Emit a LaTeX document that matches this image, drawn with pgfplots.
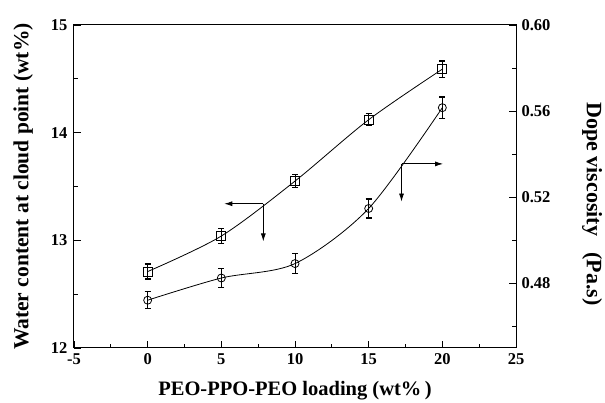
\documentclass[border=0pt]{standalone}
\usepackage{fontspec}
\setmainfont{Liberation Serif}
\usepackage{pgfplots}
\pgfplotsset{compat=1.18}
\usetikzlibrary{arrows.meta,calc}

\begin{document}
\begin{tikzpicture}
\pgfplotsset{
  every axis/.append style={
    scale only axis, width=442pt, height=323pt,
    xmin=-5, xmax=25,
    tick align=inside,
    tick style={black, line width=0.8pt},
    major tick length=7pt, minor tick length=4pt,
    axis line style={line width=1pt},
    ticklabel style={font=\fontsize{16.5}{18}\selectfont\bfseries},
    /pgf/number format/assume math mode=true,
  },
}
% left axis: water content
\begin{axis}[
  name=main,
  ymin=12, ymax=15,
  ytick={12,13,14,15}, minor ytick={12.5,13.5,14.5},
  xtick={-5,0,5,10,15,20,25}, minor xtick={-2.5,2.5,7.5,12.5,17.5,22.5},
  xtick pos=bottom, ytick pos=left,
  yticklabel style={anchor=east, xshift=-3pt},
  xticklabel style={anchor=north, yshift=-2pt},
  xlabel={PEO-PPO-PEO loading (wt\%\,)},
  ylabel={Water content at cloud point (wt\%)},
  xlabel style={font=\fontsize{20.5}{22}\selectfont\bfseries,
    at={(axis description cs:0.5,-0.133)}, anchor=center},
  ylabel style={font=\fontsize{21.5}{24}\selectfont\bfseries,
    at={(axis description cs:-0.115,0.5)}, anchor=center},
]
\addplot[black, line width=0.8pt, smooth, mark=square, mark size=4.5pt,
  mark options={fill=white, solid, line width=0.8pt},
  error bars/.cd, y dir=both, y explicit,
  error bar style={line width=0.8pt},
  error mark options={rotate=90, mark size=3pt, line width=1.2pt}]
  coordinates {
  (0,12.71) +- (0,0.07)
  (5,13.04) +- (0,0.07)
  (10,13.55) +- (0,0.06)
  (15,14.12) +- (0,0.055)
  (20,14.59) +- (0,0.075)
};
\draw[line width=0.8pt, -{Latex[length=8pt,width=5pt]}] (axis cs:7.85,13.34) -- (axis cs:5.2,13.34);
\draw[line width=0.8pt, -{Latex[length=8pt,width=5pt]}] (axis cs:7.85,13.34) -- (axis cs:7.85,12.99);
\draw[line width=0.8pt, -{Latex[length=8pt,width=5pt]}] (axis cs:17.23,13.71) -- (axis cs:20.05,13.71);
\draw[line width=0.8pt, -{Latex[length=8pt,width=5pt]}] (axis cs:17.23,13.71) -- (axis cs:17.23,13.36);
\end{axis}
% right axis: dope viscosity
\begin{axis}[
  axis y line*=right, axis x line=none,
  ymin=0.45, ymax=0.60,
  ytick={0.48,0.52,0.56,0.60}, minor ytick={0.46,0.50,0.54,0.58},
  yticklabel style={/pgf/number format/fixed, /pgf/number format/fixed zerofill,
    /pgf/number format/precision=2, anchor=west, xshift=2pt},
  ylabel={Dope viscosity~~~(Pa.s)},
  ylabel style={font=\fontsize{22}{24}\selectfont\bfseries, rotate=180,
    at={(axis description cs:1.172,0.446)}, anchor=center},
]
\addplot[black, line width=0.8pt, smooth, mark=o, mark size=4pt,
  mark options={fill=white, solid, line width=0.8pt},
  error bars/.cd, y dir=both, y explicit,
  error bar style={line width=0.8pt},
  error mark options={rotate=90, mark size=3pt, line width=1.2pt}]
  coordinates {
  (0,0.4722) +- (0,0.0039)
  (5,0.4825) +- (0,0.0043)
  (10,0.4892) +- (0,0.0046)
  (15,0.5148) +- (0,0.0044)
  (20,0.5616) +- (0,0.005)
};
\end{axis}
\pgfresetboundingbox
\path ($(main.south west)+(-74pt,-55pt)$) rectangle ($(main.north east)+(89pt,25pt)$);
\end{tikzpicture}
\end{document}
